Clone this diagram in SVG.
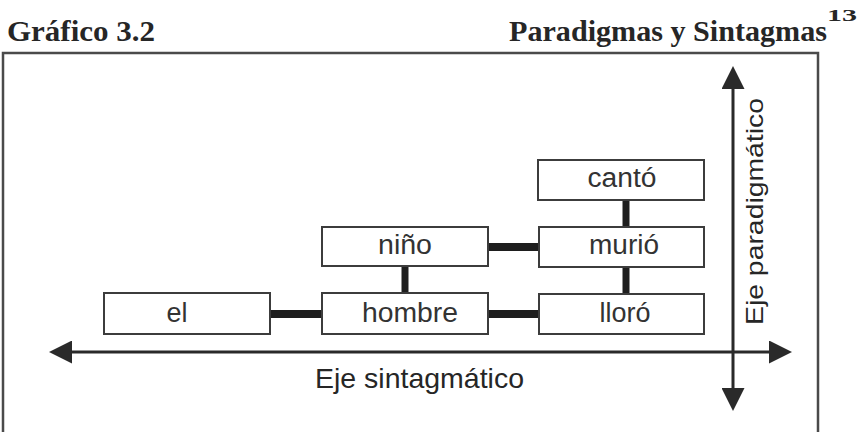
<svg xmlns="http://www.w3.org/2000/svg" width="861" height="432" viewBox="0 0 861 432">
  <style>
    .title { font-family: "Liberation Serif", "Times New Roman", serif; font-weight: bold; fill: #262626; }
    .box rect { fill: #ffffff; stroke: #3c3c3c; stroke-width: 2; }
    .box text { font-family: "Liberation Sans", Arial, sans-serif; font-size: 27px; fill: #333333; text-anchor: middle; }
    .axis-label { font-family: "Liberation Sans", Arial, sans-serif; fill: #262626; }
    .link { stroke: #1e1e1e; stroke-linecap: butt; }
    .axis { stroke: #2a2a2a; stroke-width: 3; fill: none; }
  </style>
  <defs>
    <marker id="arrow" markerUnits="userSpaceOnUse" markerWidth="23" markerHeight="23" refX="0" refY="11.5" orient="auto-start-reverse">
      <path d="M0,0 L23,11.5 L0,23 Z" fill="#2a2a2a"/>
    </marker>
  </defs>

  <rect width="861" height="432" fill="#ffffff"/>

  <!-- headings -->
  <text class="title" x="7" y="41" font-size="30" textLength="148" lengthAdjust="spacingAndGlyphs">Gráfico 3.2</text>
  <text class="title" x="509" y="41" font-size="30" textLength="318" lengthAdjust="spacingAndGlyphs">Paradigmas y Sintagmas</text>
  <text class="title" x="827" y="21" font-size="17" textLength="30" lengthAdjust="spacingAndGlyphs">13</text>

  <!-- frame -->
  <path d="M3,440 V53 H818 V440" fill="none" stroke="#4a4a4a" stroke-width="2.5"/>

  <!-- connectors -->
  <g id="connectors">
    <line class="link" x1="259" y1="314" x2="330" y2="314" stroke-width="8"/>
    <line class="link" x1="478" y1="314" x2="549" y2="314" stroke-width="8"/>
    <line class="link" x1="478" y1="247" x2="550" y2="247" stroke-width="8"/>
    <line class="link" x1="405" y1="257" x2="405" y2="302" stroke-width="7"/>
    <line class="link" x1="626" y1="189" x2="626" y2="234" stroke-width="7"/>
    <line class="link" x1="626" y1="257" x2="626" y2="302" stroke-width="7"/>
  </g>

  <!-- word nodes -->
  <g id="el" class="box">
    <rect x="104" y="293" width="166" height="41"/>
    <text x="177" y="322" textLength="21" lengthAdjust="spacingAndGlyphs">el</text>
  </g>
  <g id="hombre" class="box">
    <rect x="322" y="293" width="166" height="41"/>
    <text x="410" y="322" textLength="96" lengthAdjust="spacingAndGlyphs">hombre</text>
  </g>
  <g id="nino" class="box">
    <rect x="322" y="227" width="166" height="39"/>
    <text x="405" y="254" textLength="54" lengthAdjust="spacingAndGlyphs">niño</text>
  </g>
  <g id="lloro" class="box">
    <rect x="539" y="294" width="165" height="40"/>
    <text x="625" y="322">lloró</text>
  </g>
  <g id="murio" class="box">
    <rect x="539" y="227" width="165" height="40"/>
    <text x="624" y="254" textLength="70" lengthAdjust="spacingAndGlyphs">murió</text>
  </g>
  <g id="canto" class="box">
    <rect x="538" y="160" width="166" height="40"/>
    <text x="622" y="187" textLength="69" lengthAdjust="spacingAndGlyphs">cantó</text>
  </g>

  <!-- axes -->
  <g id="eje-sintagmatico">
    <line class="axis" x1="72" y1="352" x2="769" y2="352" marker-start="url(#arrow)" marker-end="url(#arrow)"/>
    <text class="axis-label" x="315" y="388" font-size="28" textLength="209" lengthAdjust="spacingAndGlyphs">Eje sintagmático</text>
  </g>
  <g id="eje-paradigmatico">
    <line class="axis" x1="733" y1="388" x2="733" y2="89" marker-start="url(#arrow)" marker-end="url(#arrow)"/>
    <text class="axis-label" transform="translate(763,325) rotate(-90)" x="0" y="0" font-size="24" textLength="227" lengthAdjust="spacingAndGlyphs">Eje paradigmático</text>
  </g>
</svg>
